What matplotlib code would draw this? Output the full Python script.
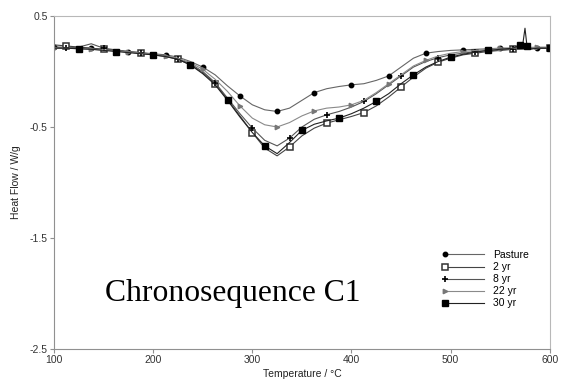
import matplotlib
matplotlib.use("Agg")
import matplotlib.pyplot as plt
from matplotlib.legend_handler import HandlerLine2D

# 온도 격자 (°C)
temp = [100, 112.5, 125, 137.5, 150, 162.5, 175, 187.5, 200, 212.5,
        225, 237.5, 250, 262.5, 275, 287.5, 300, 312.5, 325, 337.5,
        350, 362.5, 375, 387.5, 400, 412.5, 425, 437.5, 450, 462.5,
        475, 487.5, 500, 512.5, 525, 537.5, 550, 562.5, 575, 587.5, 600]

pasture = [0.22, 0.22, 0.215, 0.21, 0.20, 0.19, 0.18, 0.17, 0.16, 0.15,
           0.13, 0.09, 0.04, -0.03, -0.13, -0.22, -0.30, -0.345, -0.36, -0.33,
           -0.26, -0.19, -0.155, -0.135, -0.12, -0.11, -0.08, -0.04, 0.04, 0.12,
           0.165, 0.18, 0.19, 0.195, 0.20, 0.205, 0.21, 0.21, 0.215, 0.215, 0.215]

yr2 = [0.24, 0.23, 0.22, 0.21, 0.20, 0.19, 0.175, 0.165, 0.15, 0.135,
       0.11, 0.06, -0.01, -0.11, -0.25, -0.40, -0.55, -0.69, -0.76, -0.68,
       -0.58, -0.51, -0.465, -0.435, -0.405, -0.37, -0.31, -0.23, -0.14, -0.05,
       0.03, 0.085, 0.12, 0.15, 0.165, 0.18, 0.19, 0.20, 0.205, 0.21, 0.21]

yr8 = [0.22, 0.21, 0.22, 0.25, 0.21, 0.195, 0.18, 0.17, 0.155, 0.14,
       0.115, 0.07, 0.00, -0.10, -0.24, -0.38, -0.51, -0.62, -0.67, -0.60,
       -0.50, -0.43, -0.39, -0.36, -0.32, -0.27, -0.20, -0.12, -0.04, 0.04,
       0.09, 0.125, 0.15, 0.165, 0.18, 0.19, 0.195, 0.20, 0.205, 0.21, 0.21]

yr22 = [0.21, 0.21, 0.205, 0.20, 0.195, 0.185, 0.175, 0.165, 0.155, 0.14,
        0.12, 0.08, 0.02, -0.07, -0.18, -0.31, -0.42, -0.48, -0.50, -0.46,
        -0.40, -0.355, -0.33, -0.32, -0.30, -0.26, -0.19, -0.11, -0.03, 0.05,
        0.10, 0.14, 0.165, 0.18, 0.19, 0.20, 0.21, 0.21, 0.215, 0.22, 0.22]

# 30년: 575°C 부근 피크 때문에 별도 온도 목록
temp30 = [100, 112.5, 125, 137.5, 150, 162.5, 175, 187.5, 200, 212.5,
          225, 237.5, 250, 262.5, 275, 287.5, 300, 312.5, 325, 337.5,
          350, 362.5, 375, 387.5, 400, 412.5, 425, 437.5, 450, 462.5,
          475, 487.5, 500, 512.5, 525, 537.5, 550, 562.5, 570, 573, 575,
          577, 580, 587.5, 600]
yr30 = [0.21, 0.21, 0.205, 0.20, 0.19, 0.18, 0.17, 0.16, 0.15, 0.135,
        0.11, 0.06, -0.02, -0.12, -0.26, -0.41, -0.55, -0.67, -0.74, -0.64,
        -0.53, -0.475, -0.445, -0.42, -0.38, -0.33, -0.27, -0.20, -0.11, -0.03,
        0.04, 0.09, 0.13, 0.155, 0.175, 0.19, 0.20, 0.21, 0.235, 0.26, 0.39,
        0.23, 0.20, 0.21, 0.21]


# 범례 마커를 선의 왼쪽 끝에 표시
class HandlerLeft(HandlerLine2D):
    def create_artists(self, *args, **kwargs):
        arts = super().create_artists(*args, **kwargs)
        for a in arts:
            a.set_markevery([0])
        return arts


plt.rcParams["font.family"] = "Liberation Sans"

fig = plt.figure(figsize=(5.61, 3.83), dpi=100)
ax = fig.add_axes([0.0963, 0.0888, 0.8837, 0.8694])

ax.plot(temp, pasture, color="#666666", lw=0.8, marker="o", ms=3.2,
        mfc="black", mec="black", markevery=(0, 3), label="Pasture")
ax.plot(temp, yr2, color="#444444", lw=0.8, marker="s", ms=4.2,
        mfc="white", mec="#333333", mew=1.1, markevery=(1, 3), label="2 yr")
ax.plot(temp, yr8, color="#555555", lw=0.8, marker="+", ms=4.5,
        mec="black", mew=1.2, markevery=(1, 3), label="8 yr")
ax.plot(temp, yr22, color="#8a8a8a", lw=0.8, marker=">", ms=3.2,
        mfc="#777777", mec="#777777", markevery=(0, 3), label="22 yr")
ax.plot(temp30, yr30, color="#222222", lw=0.8, marker="s", ms=3.8,
        mfc="black", mec="black", markevery=(2, 3), label="30 yr")

ax.set_xlim(100, 600)
ax.set_ylim(-2.5, 0.5)
ax.set_xticks([100, 200, 300, 400, 500, 600])
ax.set_yticks([0.5, -0.5, -1.5, -2.5])
ax.set_yticklabels(["0.5", "-0.5", "-1.5", "-2.5"])

for s in ["left", "bottom"]:
    ax.spines[s].set_color("#909090")
for s in ["top", "right"]:
    ax.spines[s].set_color("#b8b8b8")
ax.tick_params(colors="#909090", labelcolor="#333333", labelsize=7.5,
               length=3, width=0.8, pad=1.5)

ax.set_xlabel("Temperature / °C", fontsize=7.5, color="#222222", labelpad=3)
ax.set_ylabel("Heat Flow / W/g", fontsize=7.5, color="#222222", labelpad=6)

ax.legend(loc="upper left", bbox_to_anchor=(0.788, 0.297), frameon=False,
          fontsize=7.5, handlelength=3.75, handletextpad=0.87,
          labelspacing=0.2, borderaxespad=0, borderpad=0,
          handler_map={plt.Line2D: HandlerLeft(numpoints=1)})

ax.text(151.4, -2.0, "Chronosequence C1", family="Liberation Serif",
        fontsize=22.8, color="black", va="center", ha="left",
        transform=ax.transData)

fig.savefig("out.png", dpi=100)
